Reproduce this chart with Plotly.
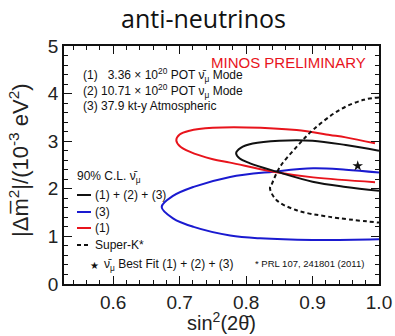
import plotly.graph_objects as go

# ---- data ----
combined_x = [1.0, 0.95, 0.90, 0.85, 0.81, 0.792, 0.785, 0.79, 0.806, 0.846, 0.90, 0.95, 1.0]
combined_y = [2.80, 2.92, 3.01, 3.01, 2.95, 2.86, 2.75, 2.64, 2.535, 2.36, 2.15, 2.04, 1.96]

beam_x = [0.994, 0.95, 0.926, 0.876, 0.80, 0.75, 0.715, 0.70, 0.695, 0.70, 0.715, 0.75, 0.776, 0.841, 0.901, 0.994]
beam_y = [2.955, 3.08, 3.13, 3.235, 3.29, 3.28, 3.22, 3.14, 3.02, 2.90, 2.78, 2.62, 2.55, 2.36, 2.24, 2.14]

atm_x = [1.0, 0.95, 0.901, 0.841, 0.776, 0.721, 0.69, 0.673, 0.69, 0.721, 0.776, 0.821, 0.90, 1.0]
atm_y = [2.34, 2.40, 2.43, 2.36, 2.25, 2.04, 1.85, 1.62, 1.38, 1.20, 1.02, 0.96, 0.925, 0.94]

superk_x = [1.0, 0.977, 0.941, 0.901, 0.876, 0.851, 0.839, 0.836, 0.846, 0.876, 0.926, 1.0]
superk_y = [3.92, 3.87, 3.66, 3.24, 2.88, 2.46, 2.11, 2.01, 1.76, 1.55, 1.41, 1.29]

best_fit_x = [0.968]
best_fit_y = [2.48]

x_ticks = [0.6, 0.7, 0.8, 0.9, 1.0]
x_tick_labels = ["0.6", "0.7", "0.8", "0.9", "1.0"]
y_ticks = [0, 1, 2, 3, 4, 5]
y_tick_labels = ["0", "1", "2", "3", "4", "5"]

# ---- layout geometry ----
W, H = 395, 336
L, R, T, B = 64, 379, 46, 284


def px(x):
    return (x - L) / (R - L)


def py(y):
    return (B - y) / (B - T)


BLACK = "#111111"
RED = "#e8141c"
BLUE = "#1a1ad0"
FONT = "Liberation Sans, Arial, sans-serif"

fig = go.Figure()
fig.add_trace(go.Scatter(x=atm_x, y=atm_y, mode="lines", line=dict(color=BLUE, width=2, shape="spline"), showlegend=False))
fig.add_trace(go.Scatter(x=beam_x, y=beam_y, mode="lines", line=dict(color=RED, width=2, shape="spline"), showlegend=False))
fig.add_trace(go.Scatter(x=combined_x, y=combined_y, mode="lines", line=dict(color=BLACK, width=2, shape="spline"), showlegend=False))
fig.add_trace(go.Scatter(x=superk_x, y=superk_y, mode="lines", line=dict(color=BLACK, width=2, dash="4px,3px", shape="spline"), showlegend=False))
fig.add_trace(go.Scatter(x=best_fit_x, y=best_fit_y, mode="markers", marker=dict(symbol="star", size=8, color=BLACK), showlegend=False))

axis_common = dict(
    showline=True, linecolor=BLACK, linewidth=1.5, mirror="allticks",
    ticks="inside", ticklen=8, tickwidth=1, tickcolor=BLACK,
    showgrid=False, zeroline=False, automargin=False,
    tickfont=dict(family=FONT, size=19, color="#222"),
)
fig.update_xaxes(range=[0.526, 1.0], tickvals=x_ticks, ticktext=x_tick_labels,
                 minor=dict(dtick=0.02, ticklen=4, ticks="inside", tickcolor=BLACK, showgrid=False),
                 **axis_common)
fig.update_yaxes(range=[0, 5], tickvals=y_ticks, ticktext=y_tick_labels,
                 minor=dict(dtick=0.2, ticklen=4, ticks="inside", tickcolor=BLACK, showgrid=False),
                 **axis_common)

ann = []


def text(x, y, s, size=12, color=BLACK, xanchor="left", family=FONT, angle=0, yanchor="middle"):
    ann.append(dict(x=px(x), y=py(y), xref="paper", yref="paper", text=s, showarrow=False,
                    xanchor=xanchor, yanchor=yanchor, textangle=angle,
                    font=dict(family=family, size=size, color=color)))


text(203, 18, "anti-neutrinos", size=25, xanchor="center", family="Open Sans, sans-serif")
text(221, 321, "sin<sup>2</sup>(2θ\u0304)", size=20, color="#222", xanchor="center")
text(19, 160, "|Δm\u0305<sup>2</sup>|/(10<sup>-3</sup> eV<sup>2</sup>)", size=22, color="#222", xanchor="center", angle=-90)

text(368, 63, "MINOS PRELIMINARY", size=15, color=RED, xanchor="right")
text(81, 75, "(1)   3.36 × 10<sup>20</sup> POT ν\u0304<sub>μ</sub> Mode")
text(81, 91, "(2) 10.71 × 10<sup>20</sup> POT ν<sub>μ</sub> Mode")
text(81, 106, "(3) 37.9 kt-y Atmospheric")
text(75, 177, "90% C.L. ν\u0304<sub>μ</sub>")
text(93, 195, "(1) + (2) + (3)")
text(93, 212, "(3)")
text(93, 228, "(1)")
text(93, 245, "Super-K*")
text(94, 265, "★", size=10, xanchor="center")
text(102, 265, "ν\u0304<sub>μ</sub> Best Fit (1) + (2) + (3)")
text(366, 263, "* PRL 107, 241801 (2011)", size=9.5, xanchor="right")

shapes = []


def swatch(y, color, dash="solid"):
    shapes.append(dict(type="line", xref="paper", yref="paper", x0=px(77), x1=px(91), y0=py(y), y1=py(y),
                       line=dict(color=color, width=2, dash=dash)))


swatch(195, BLACK)
swatch(212, BLUE)
swatch(228, RED)
swatch(245, BLACK, "4px,3px")

fig.update_layout(
    width=W, height=H,
    margin=dict(l=L, r=W - R, t=T, b=H - B, autoexpand=False),
    paper_bgcolor="white", plot_bgcolor="white",
    annotations=ann, shapes=shapes,
    showlegend=False,
)

fig.write_html("out.html", config={"displayModeBar": False},
               post_script="document.body.style.margin='0';document.body.style.padding='0';document.body.style.overflow='hidden';")
